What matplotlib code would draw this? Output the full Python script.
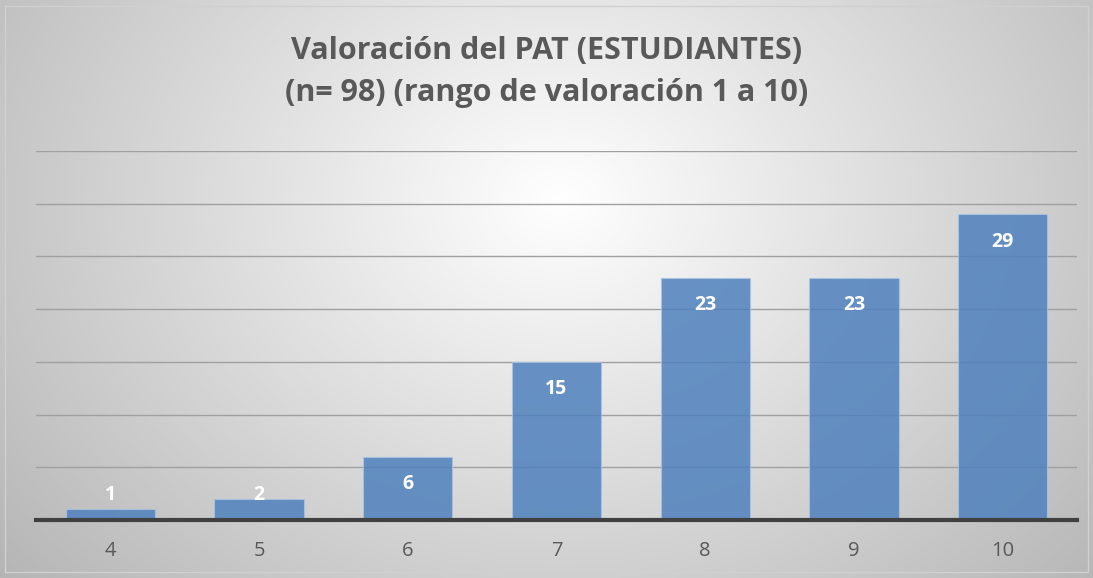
import numpy as np
import matplotlib
matplotlib.use("Agg")
import matplotlib.pyplot as plt
from matplotlib.patches import Rectangle

categories = ["4", "5", "6", "7", "8", "9", "10"]
values = [1, 2, 6, 15, 23, 23, 29]
title = "Valoración del PAT (ESTUDIANTES)\n(n= 98) (rango de valoración 1 a 10)"

W, H = 1093, 578
fig = plt.figure(figsize=(W / 100, H / 100), dpi=100)

# radial gradient background
bg = fig.add_axes([0, 0, 1, 1], zorder=-10)
yy, xx = np.mgrid[0:H, 0:W]
cx, cy = 560, 200
r = np.sqrt(((xx - cx) / 1.0) ** 2 + ((yy - cy) / 0.8) ** 2)
r = r / r.max()
val = 1.0 - 0.29 * np.clip(r, 0, 1) ** 1.0
img = np.dstack([val, val, val])
bg.imshow(img, extent=[0, W, H, 0], aspect="auto", interpolation="bilinear")
bg.add_patch(Rectangle((5, 6), W - 10, H - 12, fill=False, edgecolor="#d0d0d0", lw=1))
bg.set_xlim(0, W)
bg.set_ylim(H, 0)
bg.axis("off")

ax = fig.add_axes([36 / W, 1 - 520 / H, (1077 - 36) / W, (520 - 151) / H])
ax.patch.set_alpha(0)
x = np.arange(len(categories))
ax.bar(x, values, width=0.6, color="#4f81bd", alpha=0.85, edgecolor="#a9c3e3",
       linewidth=0.8, zorder=3)
ax.set_xlim(-0.5, len(categories) - 0.5)
ax.set_ylim(0, 35)
ax.set_yticks(np.arange(0, 36, 5))
ax.yaxis.grid(True, color="#a0a0a0", linewidth=1, zorder=0)
ax.set_axisbelow(True)
ax.tick_params(axis="y", left=False, labelleft=False)
ax.set_xticks(x)
ax.set_xticklabels(categories, fontsize=14.5, color="#595959", family=["Open Sans", "DejaVu Sans"])
ax.tick_params(axis="x", length=0, pad=15)
for s in ["top", "right", "left"]:
    ax.spines[s].set_visible(False)
ax.spines["bottom"].set_color("#404040")
ax.spines["bottom"].set_linewidth(3)
ax.spines["bottom"].set_zorder(5)

for xi, v in zip(x, values):
    ax.text(xi, max(v - 2.6, 2.4), str(v), ha="center", va="center", color="white",
            fontsize=14, fontweight="bold", family=["Open Sans", "DejaVu Sans"], zorder=6)

fig.text(0.5, 1 - 72 / H, title, ha="center", va="center", fontsize=22, fontweight="bold",
         color="#595959", family=["Open Sans", "DejaVu Sans"], linespacing=1.55)

fig.savefig("out.png", dpi=100)
